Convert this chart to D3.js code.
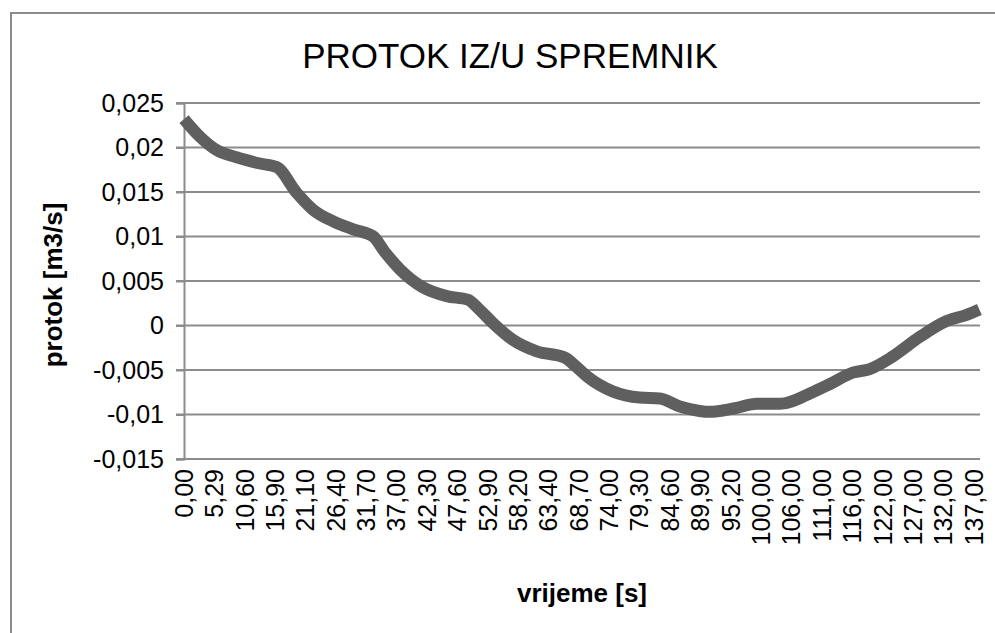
<!DOCTYPE html>
<html>
<head>
<meta charset="utf-8">
<script src="https://cdn.jsdelivr.net/npm/d3@7"></script>
<style>
  html, body { margin: 0; padding: 0; background: #fff; }
  svg { display: block; font-family: "Liberation Sans", Arial, sans-serif; }
</style>
</head>
<body>
<svg id="chart" width="995" height="633"></svg>
<script>
// ---- data ----
const timeLabels = ["0,00","5,29","10,60","15,90","21,10","26,40","31,70","37,00","42,30","47,60",
  "52,90","58,20","63,40","68,70","74,00","79,30","84,60","89,90","95,20","100,00",
  "106,00","111,00","116,00","122,00","127,00","132,00","137,00"];
// position of each reading along the category axis (in label-index units)
const samplePos = [0, 0.5, 1.08, 1.73, 2.5, 3.05, 3.71, 4.25, 4.91, 5.57, 6.23, 6.6, 7.11, 7.86,
  8.65, 9.34, 9.75, 10.16, 10.82, 11.61, 12.53, 12.9, 13.26, 14.11, 15.0, 15.66, 16.32, 16.97,
  17.3, 18.13, 18.85, 19.61, 20.69, 21.25, 22.01, 22.57, 23.32, 24.21, 25.1, 25.76, 26.18];
const flow = [0.0232, 0.0213, 0.0197, 0.0189, 0.0182, 0.0178, 0.0149, 0.0130, 0.0117, 0.0108,
  0.0100, 0.0083, 0.0063, 0.0043, 0.0033, 0.0029, 0.0017, 0.0003, -0.0016, -0.0029, -0.0036,
  -0.0046, -0.0057, -0.0074, -0.0081, -0.0082, -0.0091, -0.0096, -0.0097, -0.0093, -0.0088,
  -0.0088, -0.0075, -0.0066, -0.0053, -0.0049, -0.0035, -0.0013, 0.0005, 0.0012, 0.0018];
const yTicks = [-0.015, -0.01, -0.005, 0, 0.005, 0.01, 0.015, 0.02, 0.025];
const titleText = "PROTOK IZ/U SPREMNIK";
const xTitle = "vrijeme [s]";
const yTitle = "protok [m3/s]";

// ---- layout ----
const svg = d3.select("#chart");
const plot = { left: 184, right: 980, top: 103, bottom: 459 };
const gridColor = "#8c8c8c";

// chart-area border (cropped on right/bottom like the reference)
svg.append("rect")
  .attr("x", 11).attr("y", 13).attr("width", 1100).attr("height", 700)
  .attr("fill", "none").attr("stroke", gridColor).attr("stroke-width", 2);

const x = d3.scaleLinear().domain([0, 26.2]).range([plot.left, plot.right]);
const y = d3.scaleLinear().domain([-0.015, 0.025]).range([plot.bottom, plot.top]);

// gridlines
svg.append("g").selectAll("line").data(yTicks).join("line")
  .attr("x1", plot.left - 8).attr("x2", plot.right)
  .attr("y1", d => y(d)).attr("y2", d => y(d))
  .attr("stroke", gridColor).attr("stroke-width", 2);

// y axis
const fmt = v => (Math.abs(v) < 1e-12 ? "0" : String(+v.toFixed(3)).replace(".", ","));
const yAxis = svg.append("g").attr("transform", `translate(${plot.left},0)`)
  .call(d3.axisLeft(y).tickValues(yTicks).tickFormat(fmt).tickSize(8).tickPadding(12));
yAxis.select(".domain").attr("stroke", gridColor).attr("stroke-width", 2);
yAxis.selectAll(".tick line").attr("stroke", gridColor).attr("stroke-width", 2);
yAxis.selectAll("text").attr("font-size", 25).attr("fill", "#000")
  .attr("font-family", "Liberation Sans, Arial, sans-serif");

// x axis line
svg.append("line").attr("x1", plot.left).attr("x2", plot.right)
  .attr("y1", plot.bottom).attr("y2", plot.bottom)
  .attr("stroke", gridColor).attr("stroke-width", 2);

// x tick labels (rotated)
svg.append("g").selectAll("text").data(timeLabels).join("text")
  .attr("transform", (d, i) => `translate(${x(i)},${plot.bottom + 10}) rotate(-90)`)
  .attr("text-anchor", "end").attr("dy", "0.35em")
  .attr("font-size", 25).attr("fill", "#000")
  .text(d => d);

// line
const pts = samplePos.map((p, i) => [p, flow[i]]);
svg.append("path").datum(pts)
  .attr("d", d3.line().x(d => x(d[0])).y(d => y(d[1])).curve(d3.curveMonotoneX))
  .attr("fill", "none").attr("stroke", "#5f5f5f").attr("stroke-width", 12)
  .attr("stroke-linejoin", "round").attr("stroke-linecap", "butt");

// titles
svg.append("text").attr("x", 510).attr("y", 68).attr("text-anchor", "middle")
  .attr("font-size", 35).attr("fill", "#000").text(titleText);
svg.append("text").attr("x", 582).attr("y", 602).attr("text-anchor", "middle")
  .attr("font-size", 26).attr("font-weight", "bold").attr("fill", "#000").text(xTitle);
svg.append("text").attr("transform", "translate(62,285) rotate(-90)").attr("text-anchor", "middle")
  .attr("font-size", 26).attr("font-weight", "bold").attr("fill", "#000").text(yTitle);
</script>
</body>
</html>
